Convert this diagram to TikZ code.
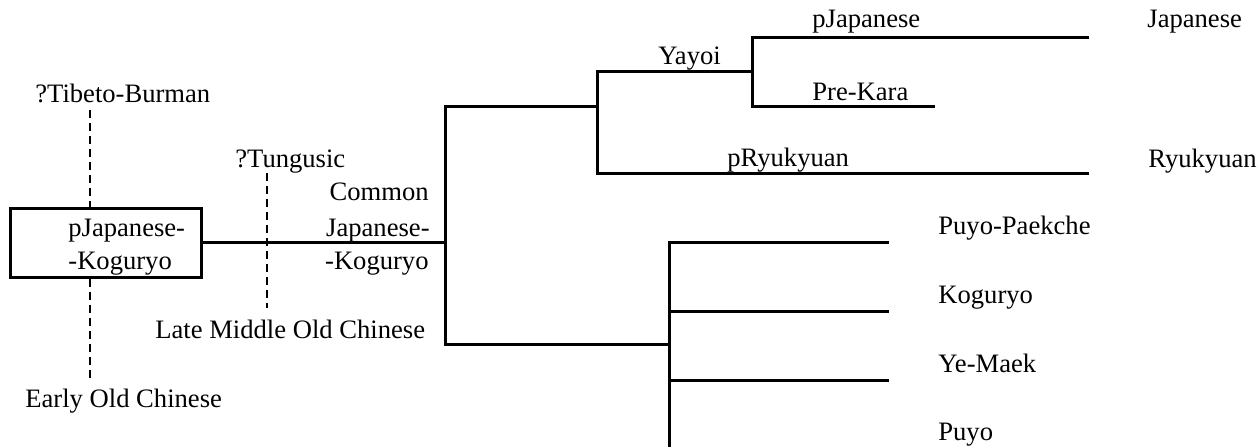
\documentclass[tikz,border=0pt]{standalone}
\usepackage{fontspec}
\setmainfont{Liberation Serif}
\begin{document}
\begin{tikzpicture}[x=0.5pt,y=-0.5pt]
\tikzset{lang/.style = {anchor=base west, inner sep=0pt, font=\fontsize{13.3}{16}\selectfont}}
\tikzset{branch/.style = {line width=1.5pt, line cap=rect}}
\tikzset{contact/.style = {line width=0.9pt, dash pattern=on 4pt off 2.5pt}}
\tikzset{protobox/.style = {shape=rectangle, draw, line width=1.5pt, minimum width=95.5pt, minimum height=34.5pt}}
\useasboundingbox (0,0) rectangle (1260,446);
% proto-language in the box
\node[protobox] (pjk) at (105.5,242.5) {};
\node[lang] (pjka) at (68,236) {pJapanese-};
\node[lang] (pjkb) at (68,269) {-Koguryo};
% possible contacts
\node[lang] (tb) at (35,102) {?Tibeto-Burman};
\node[lang] (eoc) at (25,407) {Early Old Chinese};
\node[lang] (tung) at (235,167) {?Tungusic};
\node[lang] (lmoc) at (155,338) {Late Middle Old Chinese};
\coordinate (tbdown) at (90,110);
\coordinate (eocup) at (90,380);
\coordinate (tungdown) at (267,173);
\coordinate (lmocup) at (267,308);
\draw[contact] (tbdown) -- (tbdown |- pjk.north);
\draw[contact] (eocup |- pjk.south) -- (eocup);
\draw[contact] (tungdown) -- (lmocup);
% common stage
\node[lang, anchor=base east] (cjka) at (429,200) {Common};
\node[lang, anchor=base east] (cjkb) at (430,236) {Japanese-};
\node[lang, anchor=base east] (cjkc) at (429,269) {-Koguryo};
\coordinate (cjk) at (445,242.5);
\coordinate (cjktop) at (445,106);
\coordinate (cjkbot) at (445,344);
\draw[branch] (pjk.east) -- (cjk);
\draw[branch] (cjktop) -- (cjkbot);
% Japanese side
\coordinate (jr) at (597,106);
\coordinate (jrtop) at (597,71);
\coordinate (jrbot) at (597,173);
\coordinate (yayoi) at (752,71);
\coordinate (yayoitop) at (752,37);
\coordinate (yayoibot) at (752,106);
\coordinate (pjend) at (1087,37);
\coordinate (pkend) at (933,106);
\coordinate (prend) at (1087,173);
\draw[branch] (cjktop) -- (jr);
\draw[branch] (jrtop) -- (jrbot);
\draw[branch] (jrtop) -- (yayoi);
\draw[branch] (yayoitop) -- (yayoibot);
\draw[branch] (yayoitop) -- (pjend);
\draw[branch] (yayoibot) -- (pkend);
\draw[branch] (jrbot) -- (prend);
\node[lang] (yay) at (658,64) {Yayoi};
\node[lang] (pj) at (812,27) {pJapanese};
\node[lang] (pk) at (812,100) {Pre-Kara};
\node[lang] (pr) at (727,166) {pRyukyuan};
\node[lang] (jp) at (1147,27) {Japanese};
\node[lang] (ry) at (1148,167) {Ryukyuan};
% Puyo side
\coordinate (puyo) at (669,344);
\coordinate (pp) at (669,242);
\coordinate (kg) at (669,311);
\coordinate (ym) at (669,380);
\coordinate (puyobot) at (669,446);
\coordinate (ppend) at (887,242);
\coordinate (kgend) at (887,311);
\coordinate (ymend) at (887,380);
\draw[branch] (cjkbot) -- (puyo);
\draw[branch] (pp) -- (puyobot);
\draw[branch] (pp) -- (ppend);
\draw[branch] (kg) -- (kgend);
\draw[branch] (ym) -- (ymend);
\node[lang] (ppl) at (938,234) {Puyo-Paekche};
\node[lang] (kgl) at (938,303) {Koguryo};
\node[lang] (yml) at (938,372) {Ye-Maek};
\node[lang] (pyl) at (938,440) {Puyo};
\end{tikzpicture}
\end{document}
